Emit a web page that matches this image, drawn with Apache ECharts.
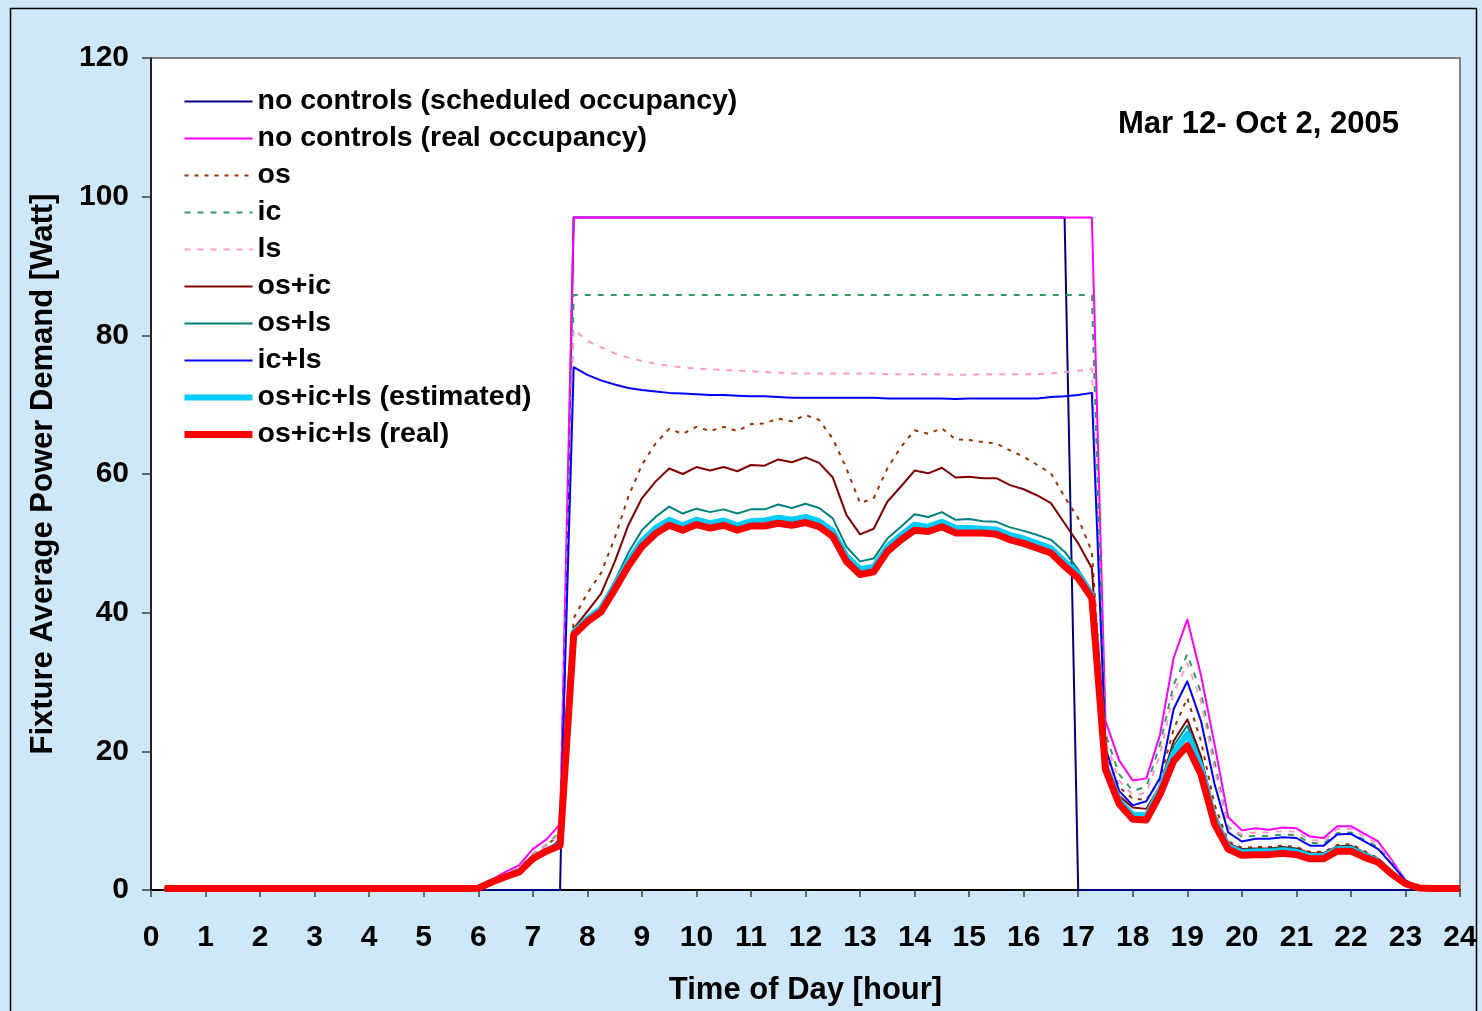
<!DOCTYPE html>
<html>
<head>
<meta charset="utf-8">
<script src="https://cdn.jsdelivr.net/npm/echarts@6/dist/echarts.min.js"></script>
<style>
html,body{margin:0;padding:0;background:#CFE8F9;}
#chart{width:1482px;height:1011px;}
</style>
</head>
<body>
<div id="chart"></div>
<script>
// time of day [hour], end of each 15-minute interval
const hours = [0.25,0.5,0.75,1,1.25,1.5,1.75,2,2.25,2.5,2.75,3,3.25,3.5,3.75,4,4.25,4.5,4.75,5,5.25,5.5,5.75,
  6,6.25,6.5,6.75,7,7.25,7.5,7.75,8,8.25,8.5,8.75,9,9.25,9.5,9.75,10,10.25,10.5,10.75,11,11.25,11.5,11.75,12,
  12.25,12.5,12.75,13,13.25,13.5,13.75,14,14.25,14.5,14.75,15,15.25,15.5,15.75,16,16.25,16.5,16.75,17,17.25,
  17.5,17.75,18,18.25,18.5,18.75,19,19.25,19.5,19.75,20,20.25,20.5,20.75,21,21.25,21.5,21.75,22,22.25,22.5,
  22.75,23,23.25,23.5,23.75,24];

// 0:15 .. 5:45
const night = [0.2,0.2,0.2,0.2,0.2,0.2,0.2,0.2,0.2,0.2,0.2,0.2,0.2,0.2,0.2,0.2,0.2,0.2,0.2,0.2,0.2,0.2,0.2];
const nightZero = [0,0,0,0,0,0,0,0,0,0,0,0,0,0,0,0,0,0,0,0,0,0,0];

// 6:00 .. 24:00
const schedDay = [0,0,0,0,0,0,0,
  97,97,97,97,97,97,97,97,97,97,
  97,97,97,97,97,97,97,97,97,97,
  97,97,97,97,97,97,97,97,97,97,
  97,97,97,97,97,97,97,
  0,0,
  0,0,0,0,0,0,0,0,0,0,0,0,0,0,0,0,0,0,0,0,0,0,0,0,0,0,0];
const realDay = [0.25,1.5,2.6,3.6,5.9,7.3,9.5,
  97,97,97,97,97,97,97,97,97,97,
  97,97,97,97,97,97,97,97,97,97,
  97,97,97,97,97,97,97,97,97,97,
  97,97,97,97,97,97,97,97,97,
  24.4,18.7,15.8,16.1,22.4,33.5,39.0,31.0,21.0,10.5,8.6,8.9,8.7,9.0,8.9,7.7,7.5,9.2,9.2,8.1,7.0,4.3,1.4,0.3,0.2,0.2,0.2];
const osDay = [0.25,1.2,2.1,3.0,5.0,6.5,7.9,
  39.2,42.8,45.7,50.7,56.7,61.3,64.4,66.5,65.8,66.8,66.2,66.8,66.2,67.2,67.3,68.0,67.6,68.5,67.8,65.1,60.8,
  55.8,56.5,60.8,63.9,66.3,65.8,66.6,65.0,64.9,64.6,64.4,63.4,62.5,61.3,60.1,56.7,53.6,48.8,
  19.8,14.8,13.2,13.0,16.0,23.2,27.7,21.5,12.3,7.0,6.1,6.2,6.2,6.4,6.2,5.5,5.5,6.5,6.6,5.6,4.6,2.7,1.0,0.3,0.2,0.2,0.2];
const icDay = [0.25,1.3,2.3,3.2,5.2,6.5,8.4,
  85.8,85.8,85.8,85.8,85.8,85.8,85.8,85.8,85.8,85.8,
  85.8,85.8,85.8,85.8,85.8,85.8,85.8,85.8,85.8,85.8,
  85.8,85.8,85.8,85.8,85.8,85.8,85.8,85.8,85.8,85.8,
  85.8,85.8,85.8,85.8,85.8,85.8,85.8,85.8,85.8,
  22.5,16.7,14.3,14.9,21.0,29.6,34.0,28.5,18.5,9.1,7.7,7.8,7.8,8.0,7.9,6.8,6.7,8.2,8.3,7.2,6.2,3.9,1.4,0.3,0.2,0.2,0.2];
const lsDay = [0.25,1.25,2.2,3.1,5.1,6.4,8.2,
  80.9,79.2,78.3,77.4,76.8,76.3,75.9,75.6,75.4,75.2,75.1,75.0,74.9,74.8,74.7,74.6,74.5,74.5,74.5,74.5,74.5,
  74.5,74.5,74.4,74.4,74.4,74.4,74.4,74.3,74.3,74.4,74.4,74.4,74.4,74.4,74.5,74.7,74.9,75.2,
  21.5,15.8,13.7,14.0,19.5,28.5,32.7,27.3,17.5,8.9,8.0,8.3,8.3,8.5,8.4,7.2,7.1,8.8,8.8,7.7,6.6,4.0,1.4,0.3,0.2,0.2,0.2];
const osIcDay = [0.25,1.1,2.0,2.8,4.7,5.9,7.0,
  37.7,40.2,42.7,47.3,52.6,56.5,58.9,60.8,60.0,61.0,60.5,61.0,60.4,61.3,61.2,62.1,61.7,62.4,61.6,59.5,54.1,
  51.3,52.1,56.0,58.2,60.5,60.1,60.9,59.5,59.6,59.4,59.4,58.4,57.8,56.9,55.8,52.9,50.0,46.4,
  18.6,13.6,11.9,11.7,15.0,21.5,24.6,19.3,11.0,6.7,5.9,6.0,6.0,6.2,6.0,5.3,5.3,6.3,6.4,5.4,4.5,2.6,1.0,0.3,0.2,0.2,0.2];
const osLsDay = [0.25,1.1,1.9,2.7,4.6,5.7,6.7,
  37.6,39.2,40.9,44.5,48.6,51.9,53.8,55.3,54.3,55.0,54.5,54.9,54.3,54.9,54.9,55.6,55.1,55.7,55.1,53.6,49.5,
  47.4,47.8,50.7,52.4,54.2,53.8,54.5,53.4,53.5,53.2,53.1,52.3,51.8,51.2,50.5,48.8,46.2,43.1,
  18.3,13.2,11.1,11.0,14.8,20.8,23.7,18.6,10.6,6.5,5.8,5.9,5.9,6.1,5.9,5.2,5.2,6.2,6.3,5.3,4.4,2.6,1.0,0.3,0.2,0.2,0.2];
const icLsDay = [0.25,1.1,1.9,2.7,4.5,5.6,7.3,
  75.4,74.3,73.5,72.9,72.4,72.1,71.9,71.7,71.6,71.5,71.4,71.4,71.3,71.2,71.2,71.1,71.0,71.0,71.0,71.0,71.0,
  71.0,71.0,70.9,70.9,70.9,70.9,70.9,70.8,70.9,70.9,70.9,70.9,70.9,70.9,71.1,71.2,71.4,71.7,
  20.5,14.3,12.2,12.8,16.2,26.1,30.1,24.4,15.3,8.3,7.0,7.4,7.4,7.6,7.5,6.4,6.4,8.0,8.1,7.0,5.9,3.7,1.4,0.3,0.2,0.2,0.2];
const estDay = [0.25,1.1,1.9,2.6,4.6,5.7,6.6,
  37.2,39.1,40.6,43.9,47.4,50.3,52.2,53.4,52.6,53.4,52.9,53.3,52.6,53.2,53.3,53.7,53.4,53.8,53.2,51.8,48.2,
  46.3,46.6,49.5,51.2,52.7,52.4,53.1,52.2,52.2,52.1,52.0,51.2,50.7,50.0,49.3,47.4,45.6,42.6,
  17.9,12.9,10.8,10.7,14.5,19.7,22.5,17.8,10.2,6.3,5.4,5.5,5.5,5.7,5.5,4.9,4.9,5.9,5.9,5.0,4.2,2.4,0.9,0.3,0.2,0.2,0.2];
const measDay = [0.25,1.15,1.9,2.6,4.5,5.6,6.4,
  36.8,38.7,40.1,43.3,46.7,49.5,51.4,52.6,51.9,52.7,52.2,52.6,51.9,52.5,52.5,52.9,52.6,53.0,52.4,51.0,47.4,
  45.5,45.9,48.8,50.5,51.9,51.7,52.4,51.5,51.5,51.5,51.3,50.5,50.0,49.3,48.6,46.7,45.0,42.1,
  17.4,12.4,10.2,10.1,13.8,18.6,20.8,16.7,9.5,5.9,5.0,5.1,5.1,5.3,5.1,4.5,4.5,5.6,5.6,4.7,4.0,2.3,0.9,0.3,0.2,0.2,0.2];

const seriesNames = ['no controls (scheduled occupancy)','no controls (real occupancy)','os','ic','ls',
  'os+ic','os+ls','ic+ls','os+ic+ls (estimated)','os+ic+ls (real)'];
const seriesValues = [nightZero.concat(schedDay), night.concat(realDay), night.concat(osDay), night.concat(icDay),
  night.concat(lsDay), night.concat(osIcDay), night.concat(osLsDay), night.concat(icLsDay),
  night.concat(estDay), night.concat(measDay)];

const styles = [
  {color:'#000080', width:2, type:'solid'},
  {color:'#FF00FF', width:2, type:'solid'},
  {color:'#993300', width:2, type:[4,6]},
  {color:'#339966', width:2, type:[6,7]},
  {color:'#FF99CC', width:2, type:[6,7]},
  {color:'#800000', width:2, type:'solid'},
  {color:'#008080', width:2, type:'solid'},
  {color:'#0000FF', width:2, type:'solid'},
  {color:'#00CCFF', width:6, type:'solid'},
  {color:'#FF0000', width:7, type:'solid'}
];

const FONT = 'Arial, "Liberation Sans", sans-serif';
const chart = echarts.init(document.getElementById('chart'), null, {renderer:'canvas'});

const series = seriesNames.map((name, k) => ({
  name: name,
  type: 'line',
  symbol: 'none',
  animation: false,
  color: styles[k].color,
  lineStyle: {color: styles[k].color, width: styles[k].width, type: styles[k].type, cap: 'butt', join: 'round'},
  data: hours.map((h, i) => [h, seriesValues[k][i]])
}));

chart.setOption({
  backgroundColor: '#CFE8F9',
  animation: false,
  graphic: [{
    type: 'rect', left: 8, top: 6, z: -10,
    shape: {x: 0, y: 0, width: 1466, height: 1020},
    style: {fill: 'none', stroke: '#000000', lineWidth: 1.5}
  }, {
    type: 'text', left: 1118, top: 109,
    style: {text: 'Mar 12- Oct 2, 2005', font: 'bold 31px ' + FONT, fill: '#000'}
  }],
  grid: {left: 151, top: 58, width: 1309, height: 835, show: true, backgroundColor: '#FFFFFF',
    borderColor: '#808080', borderWidth: 2, containLabel: false},
  legend: {
    orient: 'vertical', left: 181, top: 87, padding: 0,
    itemWidth: 68, itemHeight: 20, itemGap: 8,
    data: seriesNames,
    lineStyle: {width: 'inherit'},
    itemStyle: {opacity: 0, color: 'rgba(0,0,0,0)', borderWidth: 0},
    textStyle: {fontFamily: FONT, fontWeight: 'bold', fontSize: 28.5, color: '#000', lineHeight: 24}
  },
  xAxis: {
    type: 'value', min: 0, max: 24, interval: 1,
    name: 'Time of Day [hour]', nameLocation: 'middle', nameGap: 85,
    nameTextStyle: {fontFamily: FONT, fontWeight: 'bold', fontSize: 31, color: '#000'},
    axisLine: {show: true, lineStyle: {color: '#000', width: 2}},
    axisTick: {show: true, inside: false, length: 7, lineStyle: {color: '#404040', width: 1.5}},
    axisLabel: {margin: 33, fontFamily: FONT, fontWeight: 'bold', fontSize: 30, color: '#000'},
    splitLine: {show: false}
  },
  yAxis: {
    type: 'value', min: 0, max: 120, interval: 20,
    name: 'Fixture Average Power Demand [Watt]', nameLocation: 'middle', nameGap: 92,
    nameTextStyle: {fontFamily: FONT, fontWeight: 'bold', fontSize: 31, color: '#000'},
    axisLine: {show: true, lineStyle: {color: '#000', width: 1.5}},
    axisTick: {show: true, inside: false, length: 9, lineStyle: {color: '#404040', width: 1.5}},
    axisLabel: {margin: 22, fontFamily: FONT, fontWeight: 'bold', fontSize: 30, color: '#000'},
    splitLine: {show: false}
  },
  series: series
});
</script>
</body>
</html>
